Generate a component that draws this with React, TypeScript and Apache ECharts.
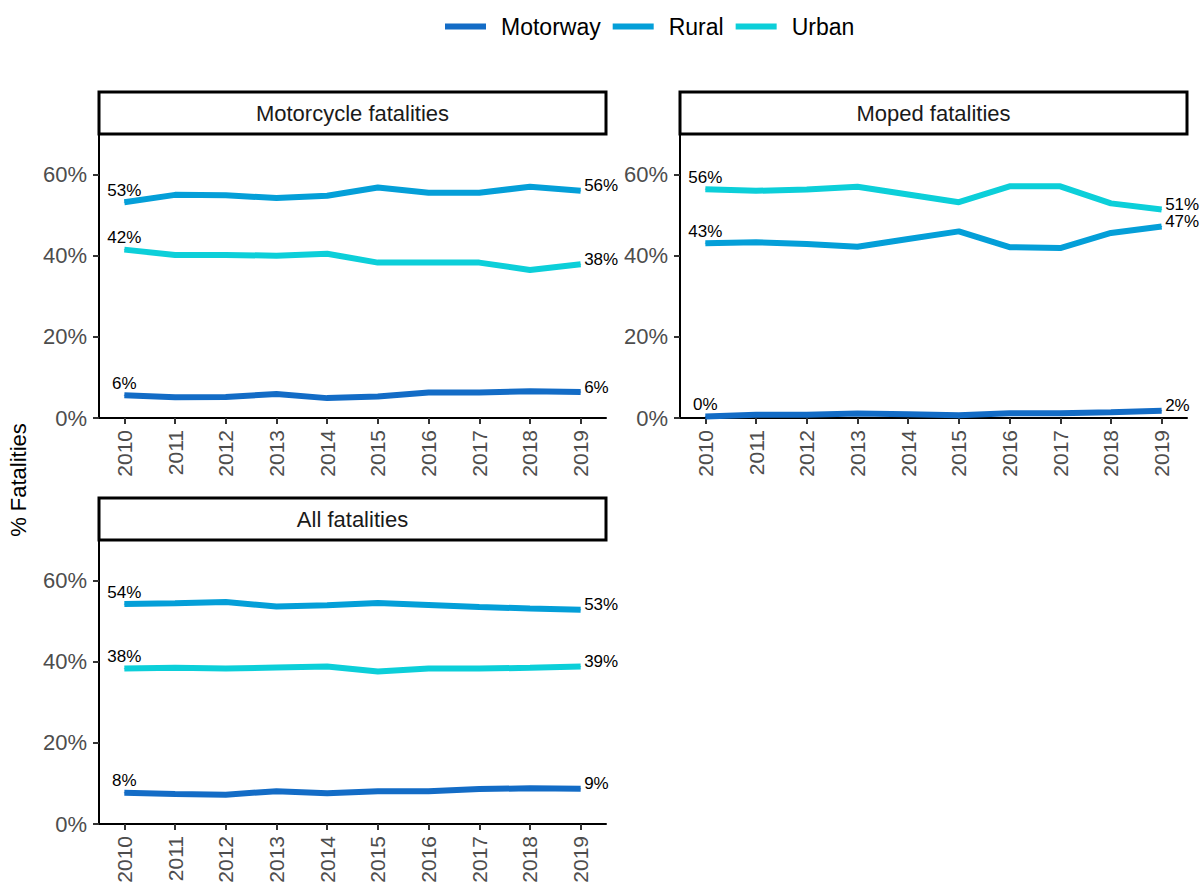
import React, { useEffect, useRef } from "react";
import * as echarts from "echarts";

const years = ["2010", "2011", "2012", "2013", "2014", "2015", "2016", "2017", "2018", "2019"];
const seriesNames = ["Motorway", "Rural", "Urban"];
const seriesColors = ["#136cc6", "#049fd8", "#0ccfd9"];
const panelTitles = ["Motorcycle fatalities", "Moped fatalities", "All fatalities"];
const yTicks = [0, 20, 40, 60];

// Motorcycle fatalities
const motorcycleMotorway = [5.6, 5.1, 5.2, 5.9, 4.9, 5.3, 6.3, 6.3, 6.6, 6.4];
const motorcycleRural = [53.2, 55.0, 54.9, 54.2, 54.8, 56.8, 55.5, 55.5, 57.0, 56.0];
const motorcycleUrban = [41.5, 40.2, 40.2, 40.0, 40.5, 38.3, 38.3, 38.3, 36.5, 37.9];
// Moped fatalities
const mopedMotorway = [0.4, 0.8, 0.8, 1.1, 0.9, 0.7, 1.2, 1.2, 1.4, 1.8];
const mopedRural = [43.1, 43.3, 42.9, 42.2, 44.1, 46.0, 42.1, 41.9, 45.6, 47.2];
const mopedUrban = [56.4, 56.0, 56.3, 57.0, 55.1, 53.2, 57.1, 57.1, 52.9, 51.4];
// All fatalities
const allMotorway = [7.7, 7.4, 7.2, 8.1, 7.6, 8.1, 8.1, 8.6, 8.8, 8.7];
const allRural = [54.2, 54.4, 54.7, 53.6, 53.9, 54.5, 54.0, 53.5, 53.1, 52.8];
const allUrban = [38.3, 38.5, 38.3, 38.6, 38.8, 37.6, 38.3, 38.3, 38.5, 38.8];

const panelData = [
  [motorcycleMotorway, motorcycleRural, motorcycleUrban],
  [mopedMotorway, mopedRural, mopedUrban],
  [allMotorway, allRural, allUrban],
];

const FONT = "'Liberation Sans', Arial, Helvetica, sans-serif";

export default function App() {
  const ref = useRef<HTMLDivElement>(null);
  useEffect(() => {
    if (!ref.current) return;
    const chart = echarts.init(ref.current, undefined, { renderer: "svg" });

    const grids = [
      { left: 99, top: 134, width: 507, height: 284 },
      { left: 680, top: 134, width: 507, height: 284 },
      { left: 99, top: 540, width: 507, height: 284 },
    ];

    const xAxes = grids.map((_, i) => ({
      type: "category",
      gridIndex: i,
      data: years,
      boundaryGap: true,
      axisLine: { show: true, lineStyle: { color: "#000", width: 2 } },
      axisTick: { show: true, alignWithLabel: true, length: 6, lineStyle: { color: "#333", width: 2 } },
      axisLabel: { rotate: 90, margin: 12, fontSize: 21, color: "#4d4d4d", fontFamily: FONT, interval: 0 },
      splitLine: { show: false },
    }));

    const yAxes = grids.map((_, i) => ({
      type: "value",
      gridIndex: i,
      min: 0,
      max: 70,
      interval: 10,
      axisLine: { show: true, lineStyle: { color: "#000", width: 2 } },
      axisTick: { show: true, length: 6, lineStyle: { color: "#333", width: 2 }, customValues: yTicks },
      axisLabel: {
        margin: 12,
        fontSize: 22,
        color: "#4d4d4d",
        fontFamily: FONT,
        customValues: yTicks,
        formatter: (v: number) => `${v}%`,
      },
      splitLine: { show: false },
    }));

    const labelBase = { show: true, fontSize: 17, color: "#000", fontFamily: FONT };

    const series: any[] = [];
    panelData.forEach((panel, p) => {
      panel.forEach((vals, s) => {
        series.push({
          type: "line",
          name: seriesNames[s],
          xAxisIndex: p,
          yAxisIndex: p,
          color: seriesColors[s],
          lineStyle: { width: 6, color: seriesColors[s] },
          symbol: "circle",
          symbolSize: 1,
          showSymbol: true,
          itemStyle: { color: seriesColors[s] },
          label: { show: false },
          emphasis: { disabled: true },
          data: vals.map((v, i) => {
            if (i === 0) {
              return {
                value: v,
                label: { ...labelBase, position: "top", distance: 3, formatter: () => `${Math.round(v)}%` },
              };
            }
            if (i === vals.length - 1) {
              return {
                value: v,
                label: {
                  ...labelBase,
                  position: "right",
                  distance: 3,
                  offset: [0, -5],
                  formatter: () => `${Math.round(v)}%`,
                },
              };
            }
            return v;
          }),
        });
      });
    });

    const graphics: any[] = [];
    grids.forEach((g, i) => {
      graphics.push({
        type: "rect",
        shape: { x: g.left, y: g.top - 42, width: g.width, height: 42 },
        style: { fill: "#fff", stroke: "#000", lineWidth: 3 },
        z: 10,
      });
      graphics.push({
        type: "text",
        x: g.left + g.width / 2,
        y: g.top - 21,
        style: {
          text: panelTitles[i],
          fontSize: 22,
          fontFamily: FONT,
          fill: "#1a1a1a",
          align: "center",
          verticalAlign: "middle",
        },
        z: 11,
      });
    });
    graphics.push({
      type: "text",
      x: 18,
      y: 480,
      rotation: Math.PI / 2,
      style: {
        text: "% Fatalities",
        fontSize: 22,
        fontFamily: FONT,
        fill: "#000",
        align: "center",
        verticalAlign: "middle",
      },
    });

    chart.setOption({
      animation: false,
      backgroundColor: "#fff",
      legend: {
        top: 10,
        left: 440,
        data: seriesNames,
        icon: "rect",
        itemWidth: 41,
        itemHeight: 6,
        itemGap: 12,
        textStyle: { fontSize: 23, color: "#000", fontFamily: FONT, padding: [0, 0, 0, 10] },
      },
      grid: grids,
      xAxis: xAxes,
      yAxis: yAxes,
      series,
      graphic: graphics,
    });

    return () => chart.dispose();
  }, []);

  return (
    <div
      ref={ref}
      style={{ position: "fixed", left: 0, top: 0, width: 1203, height: 888, background: "#fff" }}
    />
  );
}
